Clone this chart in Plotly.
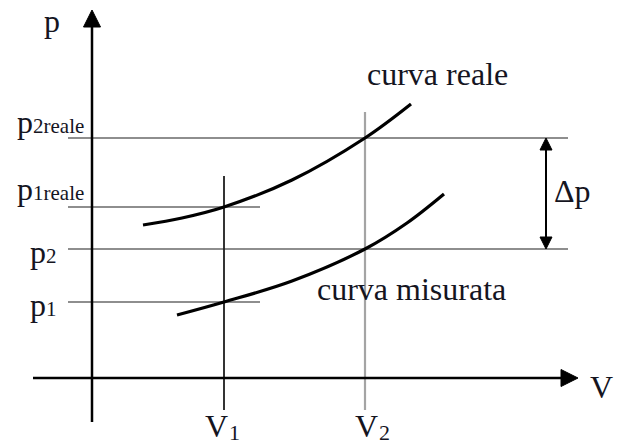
import plotly.graph_objects as go

# --- data (diagram units: V to the right, p upward, origin at the axes' crossing) ---
V_LEVELS = [132, 273]                      # V1, V2
V_LABELS = ["1", "2"]
P_MEASURED = [76, 129]                     # p1, p2
P_REAL = [171, 240]                        # p1reale, p2reale
P_MEASURED_LABELS = ["1", "2"]
P_REAL_LABELS = ["1reale", "2reale"]

# isotherm-like curves, points
REAL_V = [51, 90, 132, 200, 273, 319]
REAL_P = [153, 160, 171, 198, 240, 274]
MEAS_V = [85, 132, 200, 273, 315, 352]
MEAS_P = [63, 76, 97, 129, 155, 184]

# --- layout constants ---
W, H = 617, 445
X_RANGE = [-92, 525]
Y_RANGE = [-67, 378]
FONT = "Liberation Serif"
TEXT = "#15151f"
BIG, SMALL, SUBV = 32, 21, 22
V_LABEL_SHIFT = [-21, -12]                 # horizontal offset of each V label (px)

fig = go.Figure()


def seg(xs, ys, color, width):
    fig.add_trace(go.Scatter(x=xs, y=ys, mode="lines", hoverinfo="skip",
                             line=dict(color=color, width=width), showlegend=False))


def head(x, y, symbol, size):
    fig.add_trace(go.Scatter(x=[x], y=[y], mode="markers", hoverinfo="skip", showlegend=False,
                             marker=dict(symbol=symbol, size=size, color="black", opacity=1,
                                         line=dict(color="black", width=1))))


# horizontal pressure guides
long_end, short_end, guide_start = 476, 168, -24
seg([guide_start, long_end], [P_REAL[1]] * 2, "#8e8e8e", 2)
seg([guide_start, long_end], [P_MEASURED[1]] * 2, "#8e8e8e", 2)
seg([guide_start, short_end], [P_REAL[0]] * 2, "#8e8e8e", 2)
seg([guide_start, short_end], [P_MEASURED[0]] * 2, "#8e8e8e", 2)

# vertical volume guides
seg([V_LEVELS[0]] * 2, [-32, 202], "#1e1e1e", 1.8)
seg([V_LEVELS[1]] * 2, [-32, 266], "#a4a4a4", 2.2)

# curves
for vs, ps in ((REAL_V, REAL_P), (MEAS_V, MEAS_P)):
    fig.add_trace(go.Scatter(x=vs, y=ps, mode="lines", hoverinfo="skip", showlegend=False,
                             line=dict(color="black", width=3.2, shape="spline", smoothing=1.0)))

# axes with arrow tips
P_TOP, P_BOTTOM, V_LEFT, V_RIGHT = 368, -44, -59, 486
seg([0, 0], [P_BOTTOM, P_TOP - 6], "black", 2.5)
seg([V_LEFT, V_RIGHT - 6], [0, 0], "black", 2.5)
head(0, P_TOP, "arrow-up", 17)
head(V_RIGHT, 0, "arrow-right", 17)

# delta-p double arrow between the two pressure levels
DP_V = 454
seg([DP_V, DP_V], [P_MEASURED[1] + 4, P_REAL[1] - 4], "black", 2)
head(DP_V, P_REAL[1], "arrow-up", 12)
head(DP_V, P_MEASURED[1], "arrow-down", 12)

ann = []


def label(x, y, text, xanchor="left", yanchor="middle", xshift=0, yshift=0, size=BIG):
    ann.append(dict(x=x, y=y, xref="x", yref="y", text=text, showarrow=False,
                    font=dict(family=FONT, size=size, color=TEXT),
                    xanchor=xanchor, yanchor=yanchor, xshift=xshift, yshift=yshift))


def p_label(x, level, suffix, yshift):
    # large "p" followed by a smaller suffix sitting on the same baseline
    label(x, level, "p", yshift=yshift)
    label(x, level, suffix, size=SMALL, xshift=BIG * 0.5,
          yshift=yshift - 0.3375 * (BIG - SMALL))


# pressure labels
p_label(-77, P_REAL[1], P_REAL_LABELS[1], 16)
p_label(-77, P_REAL[0], P_REAL_LABELS[0], 18)
p_label(-64, P_MEASURED[1], P_MEASURED_LABELS[1], -3)
p_label(-64, P_MEASURED[0], P_MEASURED_LABELS[0], -3)

# volume labels: "V" with a lowered index
for v, idx, dx in zip(V_LEVELS, V_LABELS, V_LABEL_SHIFT):
    label(v, -50, "V", xshift=dx, yshift=2)
    label(v, -50, idx, size=SUBV, xshift=dx + 0.722 * BIG + 1,
          yshift=2 - 3 - 0.3375 * (BIG - SUBV))

# axis names and captions
label(-40, 357, "p", xanchor="center")
label(496, -9, "V")
label(273, 304, "curva reale")
label(223, 89, "curva misurata")
label(460, 187, "Δp")

fig.update_layout(
    width=W, height=H, margin=dict(l=0, r=0, t=0, b=0),
    paper_bgcolor="white", plot_bgcolor="white",
    xaxis=dict(range=X_RANGE, visible=False, fixedrange=True),
    yaxis=dict(range=Y_RANGE, visible=False, fixedrange=True),
    annotations=ann, showlegend=False,
)

fig.write_html("out.html", config={"displayModeBar": False})
